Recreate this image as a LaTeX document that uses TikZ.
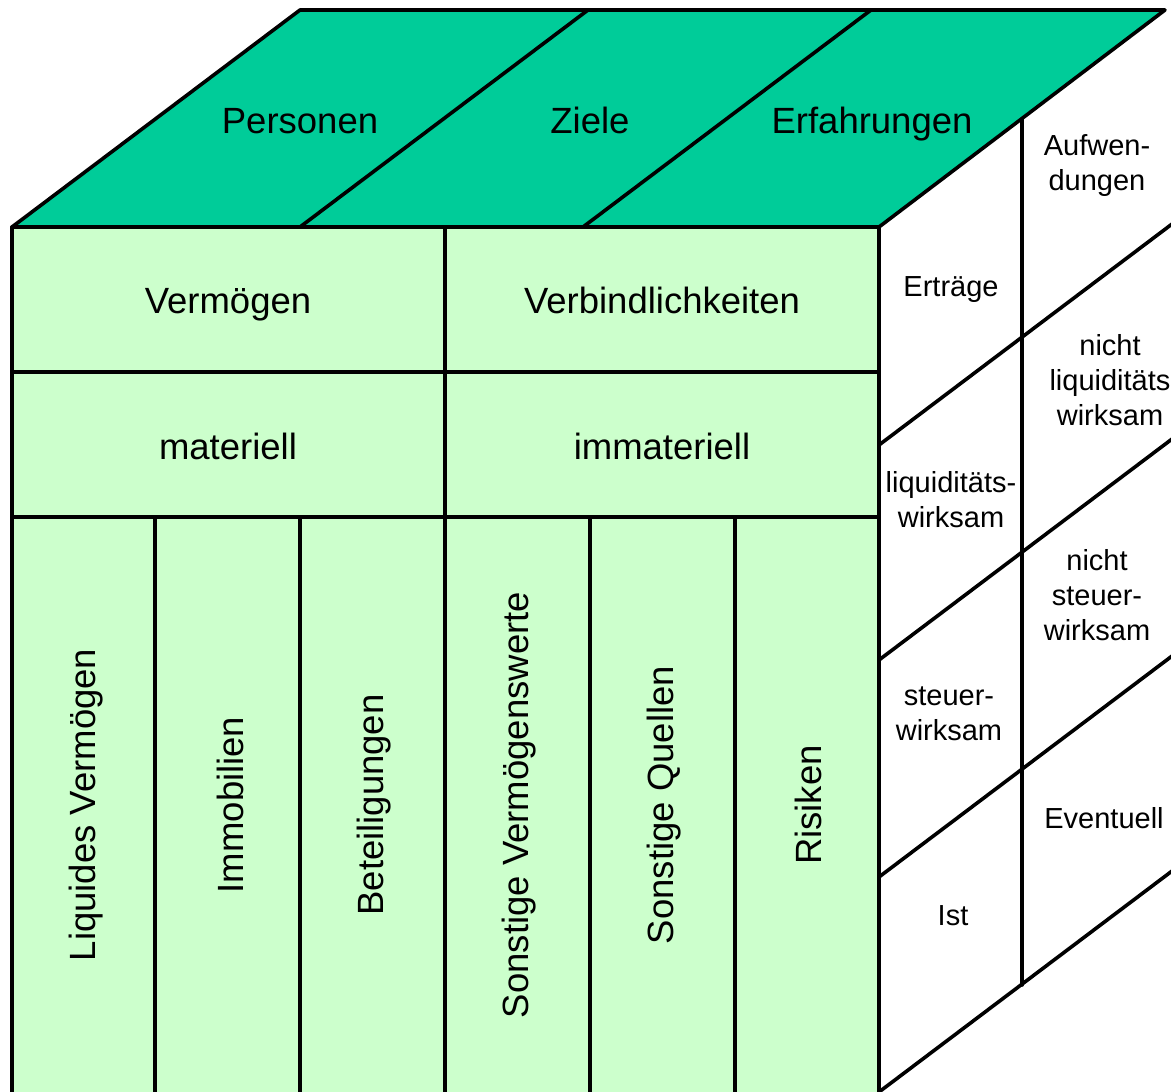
\documentclass[tikz,border=0pt]{standalone}
\usepackage{fontspec}
\setmainfont{Liberation Sans}
\definecolor{topgreen}{RGB}{0,204,153}
\definecolor{frontgreen}{RGB}{204,255,204}
\tikzset{
  edge/.style={line width=3.6pt, line cap=round, line join=round},
  big/.style={font={\fontsize{36.5}{42}\selectfont}, inner sep=0pt},
  flat/.style={big, text height=26.5pt, text depth=0pt},
  small/.style={font={\fontsize{29}{35}\selectfont}, inner sep=0pt, align=center},
  smallflat/.style={font={\fontsize{29}{35}\selectfont}, inner sep=0pt, text height=21pt, text depth=0pt},
  vert/.style={big, rotate=90}
}
\begin{document}
\begin{tikzpicture}[x=1pt,y=-1pt]
\useasboundingbox (0,0) rectangle (1171,1092);
\begin{scope}
\clip (0,0) rectangle (1171,1092);
% fills
\fill[topgreen] (12,227) -- (300,10) -- (1165,10) -- (879,227) -- cycle;
\fill[frontgreen] (12,227) rectangle (879,1100);
% top face
\draw[edge] (12,227) -- (300,10) -- (1165,10) -- (879,227) -- cycle;
\draw[edge] (300,227) -- (588,10);
\draw[edge] (583,227) -- (871,10);
% front face
\draw[edge] (12,227) -- (12,1100);
\draw[edge] (445,227) -- (445,1100);
\draw[edge] (879,227) -- (879,1100);
\draw[edge] (12,372) -- (879,372);
\draw[edge] (12,517) -- (879,517);
\foreach \xx in {155,300,590,735} \draw[edge] (\xx,517) -- (\xx,1100);
% right face
\draw[edge] (1022,119) -- (1022,985);
\foreach \yy in {445,660,877,1092} \draw[edge] (879,\yy) -- (1180,\yy-227);
\end{scope}
% top labels
\node[flat] (personen) at (300,120.5) {Personen};
\node[flat] (ziele) at (590,120.5) {Ziele};
\node[flat] (erfahrungen) at (872,120.5) {Erfahrungen};
% front labels
\node[flat] (vermoegen) at (228,300) {Vermögen};
\node[flat] (verbind) at (662,300) {Verbindlichkeiten};
\node[flat] (materiell) at (228,446) {materiell};
\node[flat] (immateriell) at (662,446) {immateriell};
\node[vert] (liquides) at (86,805) {Liquides Vermögen};
\node[vert] (immobilien) at (230,805) {Immobilien};
\node[vert] (beteil) at (374,805) {Beteiligungen};
\node[vert] (sonstvw) at (519,805) {Sonstige Vermögenswerte};
\node[vert] (sonstq) at (664,805) {Sonstige Quellen};
\node[vert] (risiken) at (808,805) {Risiken};
% right labels
\node[smallflat] (ertraege) at (951,286) {Erträge};
\node[small] (liqw) at (951,500) {liquiditäts-\\wirksam};
\node[small] (steuerw) at (949,714) {steuer-\\wirksam};
\node[smallflat] (ist) at (953,915) {Ist};
\node[small] (aufw) at (1097,166) {Aufwen-\\dungen};
\node[small] (nliq) at (1110,380) {nicht\\liquiditäts\\wirksam};
\node[small] (nsteuer) at (1097,595) {nicht\\steuer-\\wirksam};
\node[smallflat] (eventuell) at (1104,818) {Eventuell};
\end{tikzpicture}
\end{document}
